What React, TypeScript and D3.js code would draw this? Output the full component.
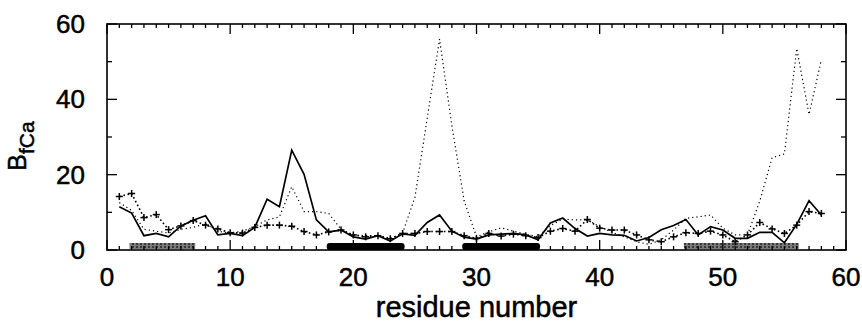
import React from "react";
import * as d3 from "d3";

const residues: number[] = d3.range(1, 59);

const solidSeries: number[] = [
  11.5, 9.8, 3.8, 4.4, 3.5, 6.4, 7.9, 9.1, 4.0, 4.4,
  3.8, 6.0, 13.5, 11.5, 26.5, 20.1, 8.0, 4.8, 5.3, 3.5,
  2.9, 3.8, 2.4, 4.3, 3.9, 7.3, 9.3, 5.0, 3.4, 2.9,
  4.0, 4.2, 4.4, 4.0, 2.7, 7.2, 8.5, 5.7, 3.7, 4.4,
  4.0, 3.9, 2.4, 3.3, 5.4, 6.5, 8.1, 4.0, 6.2, 5.3,
  3.1, 3.1, 4.7, 4.7, 1.9, 6.8, 13.1, 9.3,
];

const dottedSeries: number[] = [
  12.6, 10.5, 5.5, 5.0, 4.5, 5.5, 6.0, 7.0, 5.0, 4.5,
  5.0, 6.2, 8.0, 8.8, 16.8, 10.2, 10.2, 9.7, 5.5, 4.0,
  3.8, 3.8, 3.0, 4.5, 14.0, 35.0, 56.0, 33.0, 13.0, 3.5,
  4.8, 5.9, 5.0, 4.2, 3.5, 6.5, 8.2, 8.0, 8.0, 6.2,
  4.7, 3.5, 2.2, 1.5, 2.7, 5.3, 8.4, 8.8, 9.3, 5.8,
  4.0, 4.0, 13.0, 24.5, 25.5, 53.5, 36.0, 50.5,
];

const plusSeries: number[] = [
  14.2, 15.0, 8.6, 9.4, 5.4, 6.4, 7.8, 6.6, 5.6, 4.6,
  4.5, 6.0, 6.6, 6.6, 6.3, 4.9, 4.0, 4.8, 5.3, 4.0,
  3.5, 3.8, 3.0, 4.4, 4.4, 4.9, 4.9, 4.9, 3.8, 3.1,
  4.4, 3.7, 4.2, 3.8, 3.3, 5.0, 5.7, 5.0, 8.1, 5.8,
  5.3, 5.3, 4.0, 2.7, 2.2, 3.5, 4.6, 4.4, 5.0, 4.0,
  2.2, 4.0, 7.3, 5.6, 4.4, 6.6, 10.2, 9.7,
];

// secondary structure segments: [start, end]
const greySegments: [number, number][] = [[2, 7], [47, 56]];
const blackSegments: [number, number][] = [[18, 24], [29, 35]];

const xTickLabels: number[] = [0, 10, 20, 30, 40, 50, 60];
const yTickLabels: number[] = [0, 20, 40, 60];

const W = 862;
const H = 323;
const left = 107;
const right = 846;
const top = 24;
const bottom = 250;

export default function App() {
  const x = d3.scaleLinear().domain([0, 60]).range([left, right]);
  const y = d3.scaleLinear().domain([0, 60]).range([bottom, top]);

  const line = d3
    .line<number>()
    .x((_, i) => x(residues[i]))
    .y((d) => y(d));

  const font = "'Liberation Sans', Arial, Helvetica, sans-serif";
  const xMinor = d3.range(0, 61, 1);
  const yMinor = d3.range(0, 61, 10);
  const textStroke = { stroke: "#000", strokeWidth: 0.5 };

  return (
    <div style={{ position: "absolute", left: 0, top: 0 }}>
      <svg width={W} height={H} style={{ display: "block", background: "#fff" }}>
        <defs>
          <pattern id="stip" width="4" height="3" patternUnits="userSpaceOnUse">
            <rect width="4" height="3" fill="#7a7a7a" />
            <path d="M0,0 L2,2 M2,0 L0,2" stroke="#2a2a2a" strokeWidth="0.8" />
          </pattern>
        </defs>

        {/* secondary structure bars */}
        {greySegments.map(([s, e], i) => (
          <rect
            key={"g" + i}
            x={x(s) - 2}
            y={bottom - 7}
            width={x(e) - x(s) + 4}
            height={6}
            fill="url(#stip)"
          />
        ))}
        {blackSegments.map(([s, e], i) => (
          <rect
            key={"b" + i}
            x={x(s) - 2}
            y={bottom - 7}
            width={x(e) - x(s) + 4}
            height={7}
            rx={3}
            fill="#000"
          />
        ))}

        {/* x ticks */}
        {xMinor.map((t) => {
          const len = t % 10 === 0 ? 10 : 4;
          return (
            <g key={"xt" + t} stroke="#000" strokeWidth={1.3}>
              <line x1={x(t)} x2={x(t)} y1={bottom} y2={bottom - len} />
              <line x1={x(t)} x2={x(t)} y1={top} y2={top + len} />
            </g>
          );
        })}
        {/* y ticks */}
        {yMinor.map((t) => {
          const len = t % 20 === 0 ? 10 : 5;
          return (
            <g key={"yt" + t} stroke="#000" strokeWidth={1.3}>
              <line x1={left} x2={left + len} y1={y(t)} y2={y(t)} />
              <line x1={right} x2={right - len} y1={y(t)} y2={y(t)} />
            </g>
          );
        })}

        {/* series */}
        <path
          d={line(dottedSeries) || ""}
          fill="none"
          stroke="#000"
          strokeWidth={1.2}
          strokeDasharray="1.2 3"
        />
        <path
          d={line(plusSeries) || ""}
          fill="none"
          stroke="#000"
          strokeWidth={1.6}
          strokeDasharray="1.6 2.6"
        />
        {plusSeries.map((v, i) => (
          <g key={"p" + i} stroke="#000" strokeWidth={1.5}>
            <line x1={x(residues[i]) - 3.5} x2={x(residues[i]) + 3.5} y1={y(v)} y2={y(v)} />
            <line x1={x(residues[i])} x2={x(residues[i])} y1={y(v) - 3.5} y2={y(v) + 3.5} />
          </g>
        ))}
        <path d={line(solidSeries) || ""} fill="none" stroke="#000" strokeWidth={1.7} />

        {/* frame */}
        <rect
          x={left}
          y={top}
          width={right - left}
          height={bottom - top}
          fill="none"
          stroke="#000"
          strokeWidth={1.6}
        />

        {/* tick labels */}
        {xTickLabels.map((t) => (
          <text
            key={"xl" + t}
            x={x(t)}
            y={286}
            textAnchor="middle"
            fontFamily={font}
            fontSize={26}
            fill="#000"
            {...textStroke}
          >
            {t}
          </text>
        ))}
        {yTickLabels.map((t) => (
          <text
            key={"yl" + t}
            x={85}
            y={y(t) + 9}
            textAnchor="end"
            fontFamily={font}
            fontSize={26}
            fill="#000"
            {...textStroke}
          >
            {t}
          </text>
        ))}

        {/* axis titles */}
        <text
          x={(left + right) / 2}
          y={317}
          textAnchor="middle"
          fontFamily={font}
          fontSize={29}
          fill="#000"
          {...textStroke}
        >
          residue number
        </text>
        <text
          transform={`translate(26,146) rotate(-90)`}
          textAnchor="middle"
          fontFamily={font}
          fontSize={25}
          fill="#000"
          {...textStroke}
        >
          B
          <tspan fontSize={21} dy={8}>
            fCa
          </tspan>
        </text>
      </svg>
    </div>
  );
}
